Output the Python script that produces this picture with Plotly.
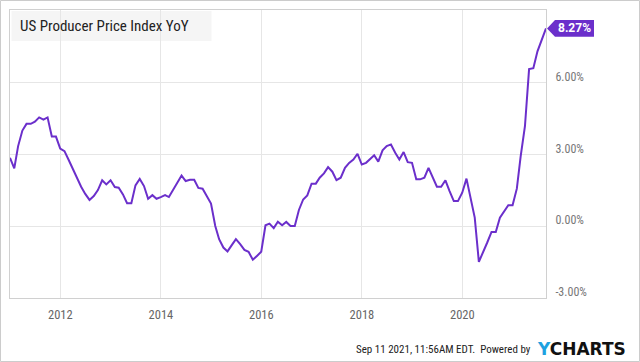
import plotly.graph_objects as go
import calendar

# Monthly US PPI YoY (%), month-end dates Dec 2010 .. Aug 2021
start_year, start_month = 2010, 12
ppi_yoy = [
    2.86, 2.42, 3.35, 4.00, 4.28, 4.28, 4.37, 4.55, 4.46, 4.55, 3.75, 3.75,
    3.25, 3.14, 2.79, 2.40, 2.00, 1.65, 1.35, 1.10, 1.26, 1.51, 1.92, 1.75,
    1.92, 1.64, 1.61, 1.33, 0.96, 0.96, 1.71, 1.98, 1.68, 1.15, 1.30, 1.15,
    1.22, 1.30, 1.22, 1.54, 1.85, 2.12, 1.89, 1.94, 1.94, 1.60, 1.57, 1.29,
    0.95, 0.01, -0.54, -0.89, -1.05, -0.79, -0.54, -0.75, -0.99, -1.07, -1.40, -1.24,
    -1.07, 0.04, 0.11, -0.08, 0.19, 0.04, 0.18, 0.01, 0.01, 0.68, 1.12, 1.29,
    1.78, 1.78, 2.03, 2.21, 2.47, 2.28, 1.93, 2.03, 2.44, 2.65, 2.79, 3.03,
    2.58, 2.65, 2.82, 2.97, 2.70, 3.17, 3.35, 3.42, 3.07, 2.79, 3.10, 2.68,
    2.65, 1.96, 1.96, 2.03, 2.44, 2.07, 1.65, 1.65, 1.92, 1.47, 1.05, 1.05,
    1.40, 1.99, 1.19, 0.36, -1.49, -1.10, -0.68, -0.24, -0.24, 0.36, 0.64, 0.88,
    0.88, 1.57, 2.93, 4.18, 6.57, 6.61, 7.31, 7.80, 8.27,
]

dates = []
y, m = start_year, start_month
for _ in ppi_yoy:
    d = calendar.monthrange(y, m)[1]
    dates.append(f"{y:04d}-{m:02d}-{d:02d}")
    m += 1
    if m > 12:
        m = 1
        y += 1

y_ticks = [-3, 0, 3, 6]
y_tick_labels = ["-3.00%", "0.00%", "3.00%", "6.00%"]
title_text = "US Producer Price Index YoY"
footer_text = "Sep 11 2021, 11:56AM EDT.  Powered by"

LINE = "#6b2fcb"
FONT = "Liberation Sans Narrow, Arial Narrow, Roboto Condensed, sans-serif"

W, H = 640, 362
ML, MR, MT, MB = 10, 94, 10, 64
PW, PH = W - ML - MR, H - MT - MB

def px2paper_x(px):
    return (px - ML) / PW

def py2paper_y(py):
    return (H - MB - py) / PH

fig = go.Figure()
fig.add_trace(go.Scatter(
    x=dates, y=ppi_yoy, mode="lines",
    line=dict(color=LINE, width=2),
    hoverinfo="skip", showlegend=False,
))

last = ppi_yoy[-1]
half = 0.35
# last value tag (pentagon pointing at last point)
x_tip, x_l, x_r = px2paper_x(547), px2paper_x(555), px2paper_x(594)
fig.add_shape(
    type="path", xref="paper", yref="y",
    path=f"M {x_tip},{last} L {x_l},{last+half} L {x_r},{last+half} L {x_r},{last-half} L {x_l},{last-half} Z",
    fillcolor=LINE, line=dict(width=0), layer="above",
)
fig.add_annotation(
    x=(x_l + x_r) / 2, y=last, xref="paper", yref="y",
    text=f"<b>{last:.2f}%</b>", showarrow=False,
    font=dict(color="white", size=12, family="Roboto, sans-serif"),
    xanchor="center", yanchor="middle",
)

# title box
fig.add_shape(
    type="rect", xref="paper", yref="paper",
    x0=px2paper_x(11.5), x1=px2paper_x(211.5), y0=py2paper_y(41), y1=py2paper_y(11),
    fillcolor="#f5f5f5", line=dict(width=0), layer="below",
)
fig.add_annotation(
    x=px2paper_x(18), y=py2paper_y(26), xref="paper", yref="paper",
    text=title_text, showarrow=False, xanchor="left", yanchor="middle",
    font=dict(size=15, color="#222", family=FONT),
)

# footer
fig.add_annotation(
    x=px2paper_x(533), y=py2paper_y(349), xref="paper", yref="paper",
    text=footer_text, showarrow=False, xanchor="right", yanchor="middle",
    font=dict(size=11, color="#222", family=FONT),
)
fig.add_annotation(
    x=px2paper_x(535), y=py2paper_y(349), xref="paper", yref="paper",
    text="<b><span style='color:#1da1e0'>Y</span>CHARTS</b>", showarrow=False,
    xanchor="left", yanchor="middle",
    font=dict(size=17, color="#111", family="DejaVu Sans, sans-serif"),
)

# outer border
fig.add_shape(
    type="rect", xref="paper", yref="paper",
    x0=px2paper_x(0.5), x1=px2paper_x(W - 0.5), y0=py2paper_y(H - 0.5), y1=py2paper_y(0.5),
    line=dict(color="#cccccc", width=1), fillcolor="rgba(0,0,0,0)",
)

fig.update_layout(
    width=W, height=H,
    margin=dict(l=ML, r=MR, t=MT, b=MB, pad=0),
    paper_bgcolor="white", plot_bgcolor="white",
    font=dict(family=FONT),
    xaxis=dict(
        range=[dates[0], dates[-1]],
        tick0="2012-01-01", dtick="M24", tickformat="%Y",
        showgrid=True, gridcolor="#e6e6e6", gridwidth=1,
        showline=True, linecolor="#d0d0d0", linewidth=1, mirror=True,
        ticks="outside", ticklen=5, tickcolor="rgba(0,0,0,0)",
        tickfont=dict(size=12.5, color="#666"),
        zeroline=False,
    ),
    yaxis=dict(
        side="right", range=[-3, 9.04],
        tickvals=y_ticks, ticktext=y_tick_labels,
        showgrid=True, gridcolor="#e6e6e6", gridwidth=1,
        showline=True, linecolor="#d0d0d0", linewidth=1, mirror=True,
        ticks="outside", ticklen=6, tickcolor="rgba(0,0,0,0)",
        ticklabelshift=-6,
        tickfont=dict(size=12, color="#777"),
        zeroline=False,
    ),
)

fig.write_html(
    "out.html",
    config={"displayModeBar": False},
    post_script="document.body.style.margin='0';document.body.style.overflow='hidden';",
)
